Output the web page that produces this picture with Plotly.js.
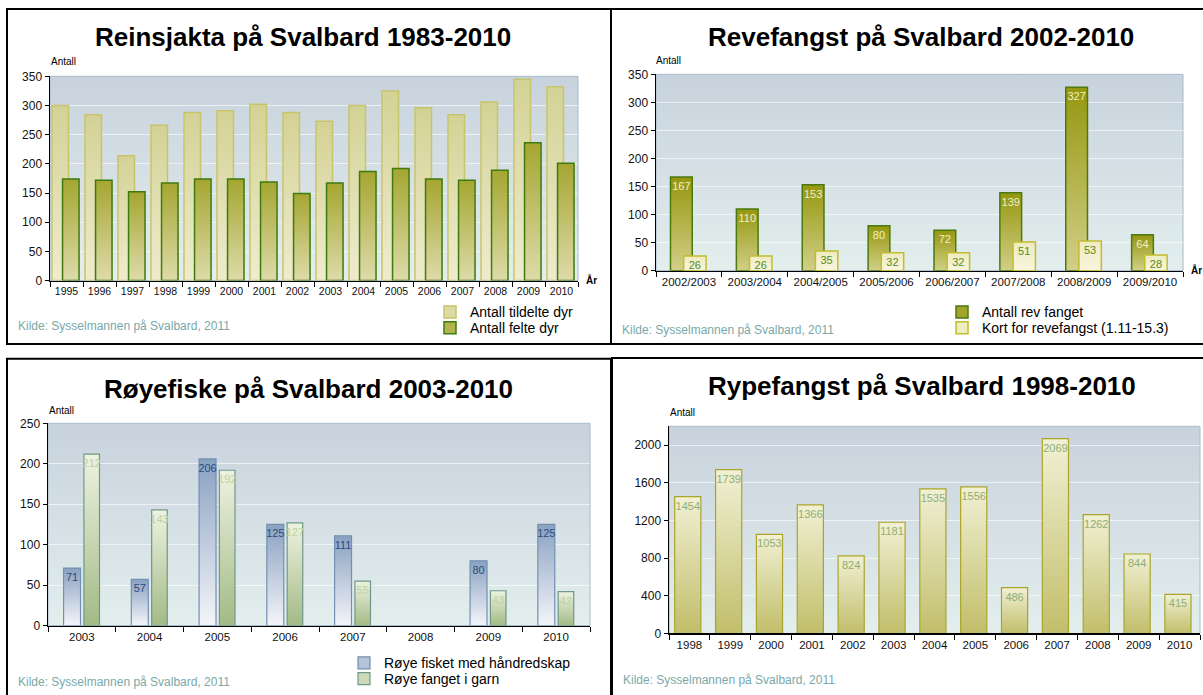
<!DOCTYPE html>
<html>
<head>
<meta charset="utf-8">
<script src="https://cdn.plot.ly/plotly-3.0.1.min.js"></script>
<style>
  html, body { margin: 0; padding: 0; background: #fff; overflow: hidden; }
  #chart { width: 1203px; height: 695px; }
</style>
</head>
<body>
<div id="chart"></div>
<script>
// data
const reinYears = ['1995', '1996', '1997', '1998', '1999', '2000', '2001', '2002',
                   '2003', '2004', '2005', '2006', '2007', '2008', '2009', '2010'];
const reinTildelt = [300, 284, 214, 266, 288, 291, 302, 288, 273, 300, 325, 296, 284, 306, 345, 332];
const reinFelt = [174, 172, 152, 167, 174, 174, 169, 149, 167, 187, 192, 174, 172, 189, 236, 201];

const reveSeasons = ['2002/2003', '2003/2004', '2004/2005', '2005/2006',
                     '2006/2007', '2007/2008', '2008/2009', '2009/2010'];
const reveFanget = [167, 110, 153, 80, 72, 139, 327, 64];
const reveKort = [26, 26, 35, 32, 32, 51, 53, 28];

const royeYears = ['2003', '2004', '2005', '2006', '2007', '2008', '2009', '2010'];
const royeHand = [71, 57, 206, 125, 111, null, 80, 125];
const royeGarn = [212, 143, 192, 127, 55, null, 43, 42];

const rypeYears = ['1998', '1999', '2000', '2001', '2002', '2003', '2004',
                   '2005', '2006', '2007', '2008', '2009', '2010'];
const rypeFangst = [1454, 1739, 1053, 1366, 824, 1181, 1535, 1556, 486, 2069, 1262, 844, 415];

const rypeTicks = [0, 400, 800, 1200, 1600, 2000];
const kilde = 'Kilde: Sysselmannen på Svalbard, 2011';

const W = 1203, H = 695;
const FONT = 'Arial, "Liberation Sans", sans-serif';
const px = x => x / W;
const py = y => 1 - y / H;

// vertical gradients for bar fills, top colour then bottom colour
const gradients = {
  gLightTL: ['#d3d295', '#efecce'],
  gDarkTL: ['#a5a631', '#dedbaa'],
  gDarkTR: ['#95970f', '#d2cf88'],
  gLightTR: ['#efecc0', '#f7f5de'],
  gBlueBL: ['#8aa1c1', '#f4f5f9'],
  gGreenBL: ['#eef2e1', '#a2ba85'],
  gRype: ['#f1f0d4', '#c1be6a']
};

function bgImage(x0, y0, x1, y1) {
  const svg = "<svg xmlns='http://www.w3.org/2000/svg' width='100' height='100' viewBox='0 0 100 100' preserveAspectRatio='none'>" +
    "<defs><linearGradient id='b' x1='0' y1='0' x2='0' y2='1'>" +
    "<stop offset='0' stop-color='#c8d2dd'/><stop offset='1' stop-color='#e3eeed'/></linearGradient></defs>" +
    "<rect width='100' height='100' fill='url(#b)'/></svg>";
  return {
    source: 'data:image/svg+xml;charset=utf-8,' + encodeURIComponent(svg),
    xref: 'paper', yref: 'paper',
    x: px(x0), y: py(y0),
    sizex: (x1 - x0) / W, sizey: (y1 - y0) / H,
    xanchor: 'left', yanchor: 'top',
    sizing: 'stretch', layer: 'below'
  };
}

function plotFrame(x0, y0, x1, y1) {
  return {
    type: 'rect', xref: 'paper', yref: 'paper',
    x0: px(x0), x1: px(x1), y0: py(y1), y1: py(y0),
    line: { color: '#a6bacb', width: 1 }, layer: 'below'
  };
}

function panelBox(x0, y0, x1, y1) {
  return {
    type: 'rect', xref: 'paper', yref: 'paper',
    x0: px(x0), x1: px(x1), y0: py(y1), y1: py(y0),
    line: { color: '#000', width: 2 }
  };
}

function note(text, x, y, size, opts = {}) {
  return {
    text, xref: 'paper', yref: 'paper', x: px(x), y: py(y),
    xanchor: 'left', yanchor: 'middle', showarrow: false,
    font: { family: FONT, size, color: '#000' }, ...opts
  };
}

const kildeNote = (x, y) => note(kilde, x, y, 12, { font: { family: FONT, size: 12, color: '#7aa8a8' } });
const titleNote = (text, x, y) => note(`<b>${text}</b>`, x, y, 26, { xanchor: 'center' });

// one legend per entry so the rows sit as tight as in the original
function legendAt(textX, rowY) {
  return {
    xref: 'paper', yref: 'paper', x: px(textX - 40), y: py(rowY),
    xanchor: 'left', yanchor: 'middle',
    bgcolor: 'rgba(0,0,0,0)', itemwidth: 30,
    font: { family: FONT, size: 14, color: '#000' }
  };
}

const barText = (color) => ({
  texttemplate: '%{y}',
  textposition: 'inside',
  insidetextanchor: 'end',
  textangle: 0,
  constraintext: 'none',
  textfont: { family: FONT, size: 11, color }
});

const traces = [
  {
    type: 'bar', x: reinYears, y: reinTildelt, name: 'Antall tildelte dyr',
    xaxis: 'x', yaxis: 'y', legend: 'legend', width: 0.5, offset: -0.44,
    marker: { color: '#dcdba6', line: { color: '#c9c46c', width: 1.5 } }, meta: 'gLightTL'
  },
  {
    type: 'bar', x: reinYears, y: reinFelt, name: 'Antall felte dyr',
    xaxis: 'x', yaxis: 'y', legend: 'legend2', width: 0.5, offset: -0.12,
    marker: { color: '#b3b44c', line: { color: '#3d7a0f', width: 1.5 } }, meta: 'gDarkTL'
  },
  {
    type: 'bar', x: reveSeasons, y: reveFanget, name: 'Antall rev fanget',
    xaxis: 'x2', yaxis: 'y2', legend: 'legend3', width: 0.33, offset: -0.28,
    marker: { color: '#a3a32a', line: { color: '#4a7a10', width: 1.5 } }, meta: 'gDarkTR',
    ...barText('#f3efc4')
  },
  {
    type: 'bar', x: reveSeasons, y: reveKort, name: 'Kort for revefangst (1.11-15.3)',
    xaxis: 'x2', yaxis: 'y2', legend: 'legend4', width: 0.34, offset: -0.08,
    marker: { color: '#eeecc0', line: { color: '#c2bc2e', width: 1.5 } }, meta: 'gLightTR',
    ...barText('#5a8a22')
  },
  {
    type: 'bar', x: royeYears, y: royeHand, name: 'Røye fisket med håndredskap',
    xaxis: 'x3', yaxis: 'y3', legend: 'legend5', width: 0.25, offset: -0.27,
    marker: { color: '#b5c3d8', line: { color: '#7290b3', width: 1.2 } }, meta: 'gBlueBL',
    ...barText('#2b4c7e')
  },
  {
    type: 'bar', x: royeYears, y: royeGarn, name: 'Røye fanget i garn',
    xaxis: 'x3', yaxis: 'y3', legend: 'legend6', width: 0.23, offset: 0.03,
    marker: { color: '#ccdab8', line: { color: '#6e988a', width: 1.2 } }, meta: 'gGreenBL',
    ...barText('#bcd3a2')
  },
  {
    type: 'bar', x: rypeYears, y: rypeFangst, name: 'Rypefangst',
    xaxis: 'x4', yaxis: 'y4', showlegend: false, width: 0.64, offset: -0.36,
    marker: { color: '#dcdaa0', line: { color: '#aaa52a', width: 1.2 } }, meta: 'gRype',
    ...barText('#8fae76')
  }
];

const xCommon = {
  type: 'category', showline: true, linecolor: '#000', linewidth: 1.5,
  ticks: 'outside', tickson: 'boundaries', ticklen: 5, tickcolor: '#000', tickwidth: 1,
  showgrid: false, zeroline: false, tickangle: 0, fixedrange: true,
  tickfont: { family: FONT, size: 11.5, color: '#111' }
};
const yCommon = {
  showline: true, linecolor: '#000', linewidth: 1.5,
  ticks: 'outside', ticklen: 4, tickcolor: '#000',
  gridcolor: 'rgba(255,255,255,0.6)', gridwidth: 1, zeroline: false, fixedrange: true,
  tickfont: { family: FONT, size: 12, color: '#111' }
};

const layout = {
  width: W, height: H,
  margin: { l: 0, r: 0, t: 0, b: 0 },
  paper_bgcolor: '#fff', plot_bgcolor: 'rgba(0,0,0,0)',
  font: { family: FONT },
  barmode: 'overlay', hovermode: false,

  xaxis: { ...xCommon, domain: [px(50), px(578)], anchor: 'y', range: [-0.5, 15.5],
           tickfont: { family: FONT, size: 10.5, color: '#111' } },
  yaxis: { ...yCommon, domain: [py(283), py(77)], anchor: 'x', range: [0, 350], dtick: 50 },
  xaxis2: { ...xCommon, domain: [px(656), px(1183)], anchor: 'y2', range: [-0.5, 7.5] },
  yaxis2: { ...yCommon, domain: [py(273), py(75)], anchor: 'x2', range: [0, 350], dtick: 50 },
  xaxis3: { ...xCommon, domain: [px(48), px(590)], anchor: 'y3', range: [-0.5, 7.5] },
  yaxis3: { ...yCommon, domain: [py(631), py(427)], anchor: 'x3', range: [0, 250], dtick: 50 },
  xaxis4: { ...xCommon, domain: [px(669), px(1200)], anchor: 'y4', range: [-0.5, 12.5] },
  yaxis4: { ...yCommon, domain: [py(639), py(430)], anchor: 'x4', range: [0, 2200],
            tickmode: 'array', tickvals: rypeTicks },

  legend: legendAt(470, 315),
  legend2: legendAt(470, 331),
  legend3: legendAt(982, 315),
  legend4: legendAt(982, 331),
  legend5: legendAt(384, 669),
  legend6: legendAt(384, 685),

  images: [
    bgImage(50, 77, 578, 283),
    bgImage(656, 75, 1183, 273),
    bgImage(48, 427, 590, 631),
    bgImage(669, 430, 1200, 639)
  ],

  shapes: [
    plotFrame(50, 77, 578, 283),
    plotFrame(656, 75, 1183, 273),
    plotFrame(48, 427, 590, 631),
    plotFrame(669, 430, 1200, 639),
    panelBox(7, 9, 611, 347),
    panelBox(611, 9, 1215, 347),
    panelBox(7, 362, 611, 710),
    panelBox(612, 361, 1215, 710)
  ],

  annotations: [
    titleNote('Reinsjakta på Svalbard 1983-2010', 303, 37),
    titleNote('Revefangst på Svalbard 2002-2010', 921, 37),
    titleNote('Røyefiske på Svalbard 2003-2010', 308, 392),
    titleNote('Rypefangst på Svalbard 1998-2010', 922, 389),
    note('Antall', 49, 62, 10),
    note('Antall', 654, 61, 10),
    note('Antall', 47, 414, 10),
    note('Antall', 668, 416, 10),
    note('<b>År</b>', 584, 282, 10),
    note('<b>År</b>', 1189, 272, 10),
    kildeNote(16, 329),
    kildeNote(20, 333 + 0),
    kildeNote(16, 688),
    kildeNote(621, 686)
  ]
};
// top-right source line sits in the right-hand panel
layout.annotations[11] = kildeNote(620, 333);

// swap flat bar fills for the vertical gradients of the original
function addGradients(gd) {
  const ns = 'http://www.w3.org/2000/svg';
  const defs = gd.querySelector('svg.main-svg defs');
  for (const [id, [top, bottom]] of Object.entries(gradients)) {
    const lg = document.createElementNS(ns, 'linearGradient');
    lg.setAttribute('id', id);
    lg.setAttribute('x1', '0'); lg.setAttribute('y1', '0');
    lg.setAttribute('x2', '0'); lg.setAttribute('y2', '1');
    [[0, top], [1, bottom]].forEach(([off, col]) => {
      const stop = document.createElementNS(ns, 'stop');
      stop.setAttribute('offset', off);
      stop.setAttribute('stop-color', col);
      lg.appendChild(stop);
    });
    defs.appendChild(lg);
  }
  gd.querySelectorAll('g.trace.bars').forEach(g => {
    const cd = g.__data__;
    const trace = cd && cd[0] && cd[0].trace;
    if (!trace || !trace.meta) return;
    g.querySelectorAll('g.point path').forEach(p => { p.style.fill = `url(#${trace.meta})`; });
  });
}

Plotly.newPlot('chart', traces, layout, { displayModeBar: false, staticPlot: true })
  .then(addGradients);
</script>
</body>
</html>
